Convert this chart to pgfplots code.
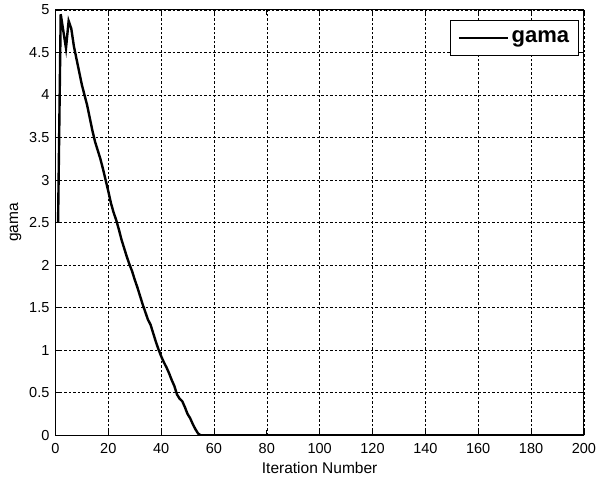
\documentclass[border=0pt]{standalone}
\usepackage{pgfplots}
\pgfplotsset{compat=1.18}
\usepackage{fontspec}
\setmainfont{Liberation Sans}
\begin{document}
\fontsize{14.5}{17}\selectfont
\begin{tikzpicture}
\begin{axis}[
  scale only axis,
  width=528pt, height=425pt,
  xmin=0, xmax=200, ymin=0, ymax=5,
  xtick={0,20,...,200},
  ytick={0,0.5,...,5},
  yticklabels={0,0.5,1,1.5,2,2.5,3,3.5,4,4.5,5},
  /pgf/number format/assume math mode=true,
  tick align=inside,
  tick pos=both,
  major tick length=5pt,
  grid=major,
  major grid style={black, dash pattern=on 2.5pt off 2pt, line width=0.6pt},
  axis line style={black, line width=1pt},
  tick style={black, line width=0.7pt},
  ticklabel style={font=\fontsize{14.5}{17}\selectfont},
  xticklabel style={yshift=-3pt, inner xsep=0pt},
  yticklabel style={xshift=-1pt},
  xlabel={Iteration Number},
  ylabel={gama},
  label style={font=\fontsize{15.5}{18}\selectfont},
  xlabel style={yshift=1pt},
  ylabel style={inner ysep=9.8pt, yshift=-7pt},
  legend style={at={(0.99,0.977)}, anchor=north east, draw=black, line width=1pt,
    font=\fontsize{22}{24}\selectfont\bfseries, inner xsep=7pt, inner ysep=8.5pt},
  legend cell align=left,
  legend image code/.code={\draw[#1, line width=2.4pt] (0cm,0cm) -- (1.74cm,0cm);},
]
\addplot[black, line width=2.4pt] coordinates {
(1,2.5) (2,4.95) (3,4.75) (4,4.55) (5,4.87) (6,4.78) (7,4.57) (8,4.42) (9,4.27) (10,4.12)
(11,4.0) (12,3.88) (13,3.73) (14,3.58) (15,3.45) (16,3.35) (17,3.25) (18,3.13) (19,3.0) (20,2.87)
(21,2.73) (22,2.62) (23,2.53) (24,2.42) (25,2.3) (26,2.2) (27,2.1) (28,2.01) (29,1.93) (30,1.83)
(31,1.74) (32,1.64) (33,1.54) (34,1.45) (35,1.36) (36,1.3) (37,1.2) (38,1.1) (39,1.01) (40,0.93)
(41,0.86) (42,0.8) (43,0.73) (44,0.65) (45,0.58) (46,0.48) (47,0.43) (48,0.4) (49,0.33) (50,0.25)
(51,0.2) (52,0.13) (53,0.07) (54,0.02) (55,0) (200,0)
};
\addlegendentry{gama}
\end{axis}
\end{tikzpicture}
\end{document}
